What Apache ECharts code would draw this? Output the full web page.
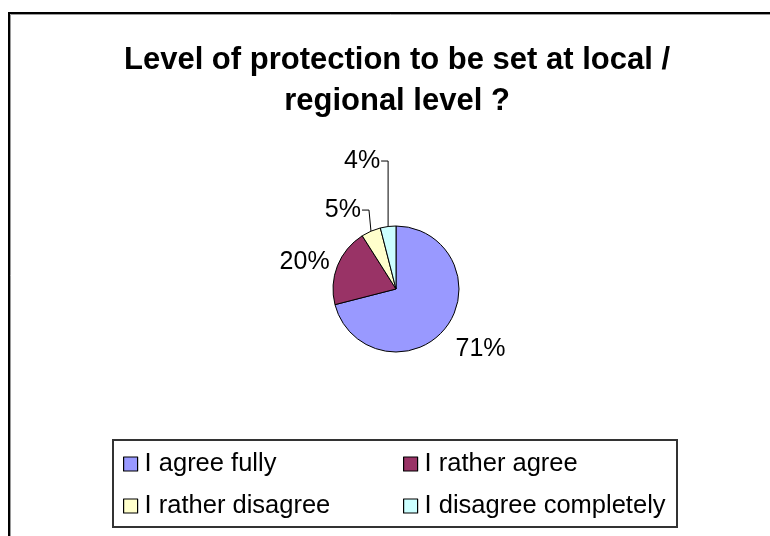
<!DOCTYPE html>
<html>
<head>
<meta charset="utf-8">
<script src="https://cdn.jsdelivr.net/npm/echarts@6/dist/echarts.min.js"></script>
<style>
  html, body { margin: 0; padding: 0; background: #ffffff; }
  #chart { width: 770px; height: 536px; }
</style>
</head>
<body>
<div id="chart"></div>
<script>
// Survey answers, one slice per answer
const titleLines = ['Level of protection to be set at local /', 'regional level ?'];
const categories = ['I agree fully', 'I rather agree', 'I rather disagree', 'I disagree completely'];
const shares = [71, 20, 5, 4];
const sliceColors = ['#9999FF', '#993366', '#FFFFCC', '#CCFFFF'];

// Legend is laid out as two columns of two entries
const legendColumns = [
  [categories[0], categories[2]],
  [categories[1], categories[3]]
];

// Per-slice label line lengths [radial, horizontal] and whether a leader is drawn
const labelLineLengths = [[6, 0], [3, 0], [23, 6], [66, 6]];
const labelLineShown = [false, false, true, true];
// vertical nudge for the labels without a leader line
const labelNudgeY = [18, -3, 0, 0];

const FONT = '"Liberation Sans", Arial, Helvetica, sans-serif';

const chart = echarts.init(document.getElementById('chart'), null, { renderer: 'canvas' });

const pieData = categories.map((name, i) => ({
  name: name,
  value: shares[i],
  itemStyle: { color: sliceColors[i] },
  labelLine: {
    show: labelLineShown[i],
    length: labelLineLengths[i][0],
    length2: labelLineLengths[i][1]
  }
}));

chart.setOption({
  animation: false,
  backgroundColor: '#ffffff',
  legend: legendColumns.map((col, c) => ({
    data: col,
    orient: 'vertical',
    left: c === 0 ? 123 : 403,
    top: 450,
    padding: 0,
    icon: 'rect',
    itemWidth: 14,
    itemHeight: 14,
    itemGap: 14,
    selectedMode: false,
    itemStyle: { borderColor: '#000000', borderWidth: 1.2 },
    textStyle: {
      fontFamily: FONT,
      fontSize: 25.5,
      color: '#000000',
      lineHeight: 28,
      padding: [0, 0, 0, 2]
    }
  })),
  graphic: [
    // chart frame (left and top edges)
    { type: 'polyline', silent: true,
      shape: { points: [[9, 540], [9, 13], [775, 13]] },
      style: { stroke: '#000000', lineWidth: 2, fill: null } },
    { type: 'polyline', silent: true,
      shape: { points: [[10.5, 540], [10.5, 14.5], [775, 14.5]] },
      style: { stroke: '#9a9a9a', lineWidth: 1, fill: null } },
    // chart title, centred over the pie
    { type: 'text', silent: true,
      x: 397, y: 40,
      style: {
        text: titleLines.join('\n'),
        align: 'center',
        verticalAlign: 'top',
        fontFamily: FONT,
        fontSize: 31,
        fontWeight: 'bold',
        lineHeight: 41,
        fill: '#000000'
      } },
    // legend box
    { type: 'rect', silent: true, z: -1,
      shape: { x: 113, y: 440, width: 564, height: 87 },
      style: { fill: '#ffffff', stroke: '#333333', lineWidth: 2 } }
  ],
  series: [{
    type: 'pie',
    center: [396, 289],
    radius: 63,
    startAngle: 90,
    clockwise: true,
    avoidLabelOverlap: false,
    silent: true,
    itemStyle: { borderColor: '#000000', borderWidth: 1 },
    label: {
      show: true,
      position: 'outside',
      formatter: '{c}%',
      fontFamily: FONT,
      fontSize: 25,
      color: '#000000',
      lineHeight: 26
    },
    labelLine: {
      lineStyle: { color: '#000000', width: 1 }
    },
    labelLayout: function (p) {
      const i = p.dataIndex;
      const lr = p.labelRect;
      const midY = lr.y + lr.height / 2;
      if (labelLineShown[i] && p.labelLinePoints) {
        // elbow leader: up from the slice edge, then a short tick to the label
        const edge = p.labelLinePoints[0];
        const elbowX = edge[0] - (i === 2 ? 2 : 0);
        const endX = elbowX - 7;
        return {
          x: endX - 1,
          y: midY,
          align: 'right',
          verticalAlign: 'middle',
          labelLinePoints: [edge, [elbowX, midY], [endX, midY]]
        };
      }
      return { y: midY + labelNudgeY[i], verticalAlign: 'middle' };
    },
    data: pieData
  }]
});
</script>
</body>
</html>
